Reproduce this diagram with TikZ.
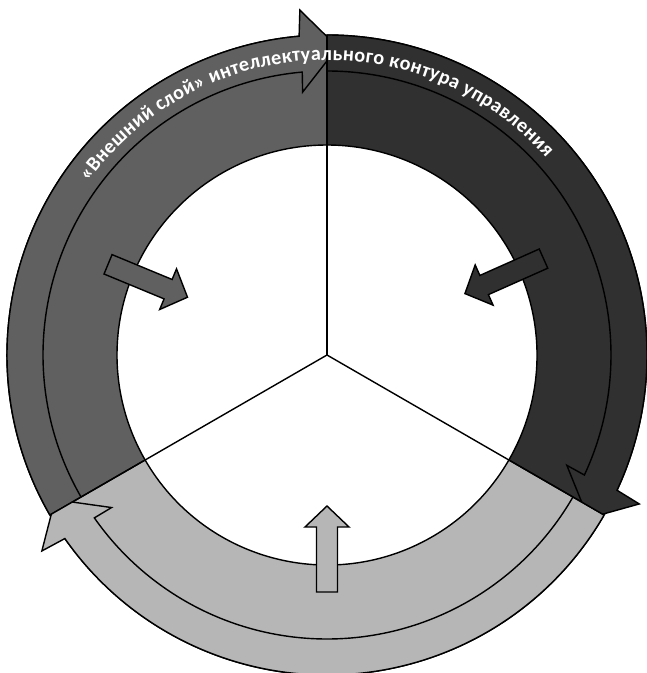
\documentclass[tikz,border=0pt]{standalone}
\usepackage{fontspec}
\usetikzlibrary{decorations.text}
\newfontfamily\ringfamily{Carlito}
\newcommand{\ringtextfont}{\ringfamily\bfseries\fontsize{11.5}{13}\selectfont}
\definecolor{ringmid}{RGB}{96,96,96}
\definecolor{ringdark}{RGB}{48,48,48}
\definecolor{ringlight}{RGB}{182,182,182}

\begin{document}
\begin{tikzpicture}[
    x=0.02cm, y=0.02cm,
    line width=0.8pt,
    ]

    \useasboundingbox (-327,-318) rectangle (319,355);

    % Define a macro to draw one part of the ring with its curved arrow
    % Parameters: Start_Angle (tail), Colour
    \newcommand{\ringpart}[2]{
        \pgfmathsetmacro{\startang}{#1}
        \pgfmathsetmacro{\endang}{#1 - 120}
        \pgfmathsetmacro{\headback}{\endang + 5}
        \pgfmathsetmacro{\headtip}{\endang - 2}

        \begin{scope}
            % keep the tip inside its own part
            \clip (0,0) -- (\startang:400) arc[start angle=\startang, end angle=\endang, radius=400] -- cycle;
            % Segment
            \draw[fill=#2] (\startang:210) -- (\startang:320)
                arc[start angle=\startang, end angle=\endang, radius=320]
                -- (\endang:210) arc[start angle=\endang, end angle=\startang, radius=210] -- cycle;
            % Curved arrow
            \draw[fill=#2] (\startang:284) arc[start angle=\startang, end angle=\headback, radius=284]
                -- ({\headback+0.3}:264) -- (\headtip:308) -- ({\headback-0.5}:346) -- (\headback:320)
                arc[start angle=\headback, end angle=\startang, radius=320] -- cycle;
        \end{scope}
    }

    % Define a macro for the straight arrows pointing to the centre
    % Parameters: Angle, Colour
    \newcommand{\innerarrow}[2]{
        \begin{scope}[shift={(#1:237)}, rotate=#1+180]
            \draw[fill=#2] (0,-10.5) -- (65,-10.5) -- (65,-22) -- (86,0) -- (65,22) -- (65,10.5) -- (0,10.5) -- cycle;
        \end{scope}
    }

    % ==========================================
    % Ring
    % ==========================================
    \ringpart{210}{ringmid}
    \ringpart{90}{ringdark}
    \ringpart{330}{ringlight}

    \foreach \a in {90,210,330}
        \draw (0,0) -- (\a:320);

    % ==========================================
    % Arrows to the centre
    % ==========================================
    \innerarrow{157.5}{ringmid}
    \innerarrow{24}{ringdark}
    \innerarrow{270}{ringlight}

    % ==========================================
    % Title along the ring
    % ==========================================
    \path[decorate, decoration={text along path, text align={fit to path}, text color=white,
        text={|\ringtextfont|«Внешний слой» интеллектуального контура управления}}]
        (144:295) arc[start angle=144, end angle=42, radius=295];

\end{tikzpicture}
\end{document}
